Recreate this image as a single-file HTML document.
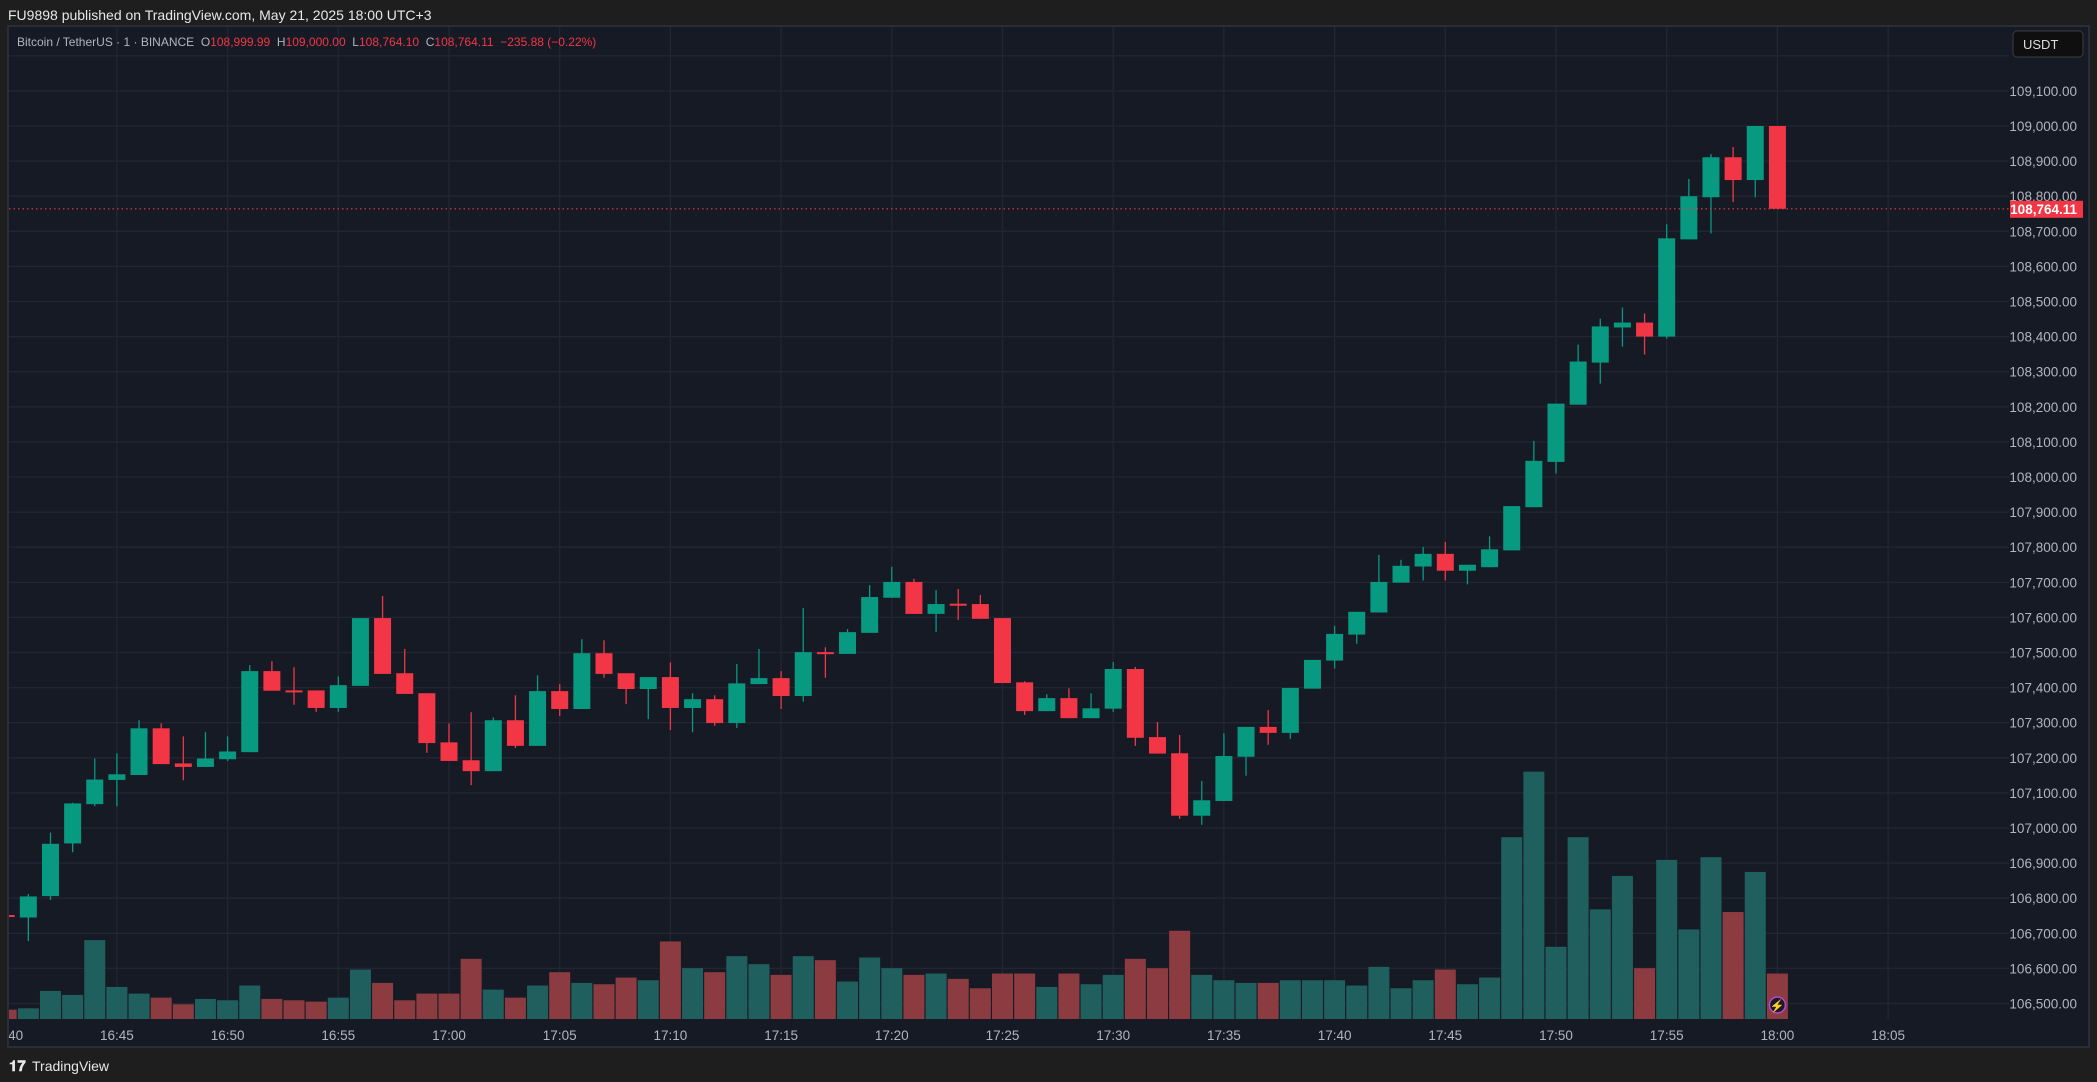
<!DOCTYPE html>
<html><head><meta charset="utf-8">
<style>
html,body{margin:0;padding:0;background:#1e1e1e;width:2097px;height:1082px;overflow:hidden;font-family:"Liberation Sans",sans-serif;}
svg{position:absolute;left:0;top:0;}
</style></head>
<body>
<svg id="chart" width="2097" height="1082" xmlns="http://www.w3.org/2000/svg">
<defs><clipPath id="plotclip"><rect x="9" y="27" width="2000" height="992"/></clipPath>
<clipPath id="axisclip"><rect x="9" y="1019" width="2000" height="27"/></clipPath></defs>
<rect x="0" y="0" width="2097" height="1082" fill="#1e1e1e"/>
<text x="8" y="20" fill="#e8e8e8" font-size="14">FU9898 published on TradingView.com, May 21, 2025 18:00 UTC+3</text>
<rect x="8" y="26" width="2081" height="1021" fill="#161a25" stroke="#2a2d35" stroke-width="2"/>
<g id="grid"></g>
<g id="vols" clip-path="url(#plotclip)"></g>
<g id="candles" clip-path="url(#plotclip)"></g>
<g id="yaxis"></g>
<g id="xaxis" clip-path="url(#axisclip)"></g>
<text x="17" y="46" font-size="12" fill="#b2b5be" style="white-space:pre">Bitcoin / TetherUS · 1 · BINANCE  O<tspan fill="#f23645">108,999.99</tspan>  H<tspan fill="#f23645">109,000.00</tspan>  L<tspan fill="#f23645">108,764.10</tspan>  C<tspan fill="#f23645">108,764.11</tspan>  <tspan fill="#f23645">−235.88 (−0.22%)</tspan></text>
<rect x="2013" y="31" width="70" height="26" rx="4" fill="#0f0f0f" stroke="#3a3d45"/>
<text x="2023" y="49" font-size="13" fill="#dddddd">USDT</text>
<g><text x="9" y="1071" font-size="15" font-weight="bold" fill="#e8e8e8">𝟏𝟕</text><text x="32" y="1071" font-size="14" fill="#e8e8e8">TradingView</text></g>
</svg>
<script>
const opens=[106752,106745,106806,106956,107068,107137,107151,107284,107184,107174,107196,107216,107447,107392,107392,107342,107405,107598,107441,107384,107244,107193,107162,107307,107234,107390,107339,107498,107441,107396,107430,107342,107367,107299,107410,107427,107376,107501,107496,107556,107656,107701,107610,107639,107638,107598,107415,107333,107370,107313,107340,107453,107259,107213,107035,107077,107203,107288,107271,107397,107477,107551,107614,107699,107745,107781,107733,107743,107791,107914,108043,108206,108326,108426,108440,108400,108677,108797,108911,108846,108999.99];
const highs=[106760,106812,106987,107072,107198,107213,107307,107298,107261,107273,107261,107464,107475,107458,107392,107432,107598,107661,107510,107384,107298,107330,107315,107378,107435,107410,107538,107535,107441,107430,107472,107384,107378,107467,107510,107447,107627,107515,107567,107692,107744,107710,107678,107681,107664,107598,107418,107381,107398,107384,107473,107459,107302,107265,107134,107270,107288,107336,107399,107479,107576,107616,107778,107764,107801,107815,107750,107831,107917,108103,108209,108377,108451,108483,108466,108720,108849,108920,108940,109000,109000];
const lows=[106745,106678,106795,106931,107062,107062,107151,107182,107136,107174,107191,107216,107391,107351,107331,107331,107405,107439,107382,107214,107191,107122,107162,107228,107234,107319,107339,107428,107353,107310,107279,107273,107291,107285,107410,107339,107360,107428,107496,107556,107656,107610,107559,107593,107596,107413,107322,107333,107313,107313,107331,107234,107212,107026,107009,107077,107149,107237,107254,107397,107454,107525,107614,107699,107705,107705,107694,107743,107791,107914,108010,108206,108266,108371,108349,108394,108677,108694,108783,108797,108764.10];
const closes=[106748,106805,106955,107070,107138,107153,107284,107182,107174,107198,107218,107447,107391,107390,107342,107407,107598,107439,107382,107242,107191,107162,107307,107234,107390,107339,107498,107439,107396,107430,107342,107367,107299,107412,107427,107376,107501,107499,107558,107658,107701,107610,107638,107637,107596,107413,107333,107370,107313,107341,107453,107257,107212,107035,107079,107205,107288,107271,107399,107479,107553,107616,107701,107747,107781,107733,107750,107794,107917,108046,108209,108329,108429,108440,108400,108680,108800,108911,108846,109000,108764.11];
const volumes=[7,8,21,18,59,24,19,16,11,15,14,25,15,14,13,16,37,27,14,19,19,45,22,16,25,35,27,26,31,29,58,38,35,47,41,33,47,44,28,46,38,33,34,30,23,34,34,24,34,26,33,45,38,66,33,29,27,27,29,29,29,25,39,23,29,37,26,31,136,185,54,136,82,107,38,119,67,121,80,110,34];
const priceTicks=[106500,106600,106700,106800,106900,107000,107100,107200,107300,107400,107500,107600,107700,107800,107900,108000,108100,108200,108300,108400,108500,108600,108700,108800,108900,109000,109100];
const timeTicks=["16:40","16:45","16:50","16:55","17:00","17:05","17:10","17:15","17:20","17:25","17:30","17:35","17:40","17:45","17:50","17:55","18:00","18:05"];
const lastPrice=108764.11;

const NS="http://www.w3.org/2000/svg";
const X=i=>6.2+i*22.14;
const Y=p=>126+(109000-p)*0.351;
const VY=v=>1019-v*1.337;
function mk(tag,attrs,parent){const e=document.createElementNS(NS,tag);for(const k in attrs)e.setAttribute(k,attrs[k]);parent.appendChild(e);return e;}
const fmt=p=>p.toLocaleString('en-US',{minimumFractionDigits:2,maximumFractionDigits:2});

const grid=document.getElementById('grid');
for(let p=106500;p<=109200;p+=100){
  const l=mk('line',{x1:9,x2:2009,y1:Y(p),y2:Y(p),stroke:'#232632','stroke-width':1.3},grid);
  
  
}
timeTicks.forEach((t,k)=>{
  const x=X(k*5);
  if(x>9){const l=mk('line',{x1:x,x2:x,y1:27,y2:1019,stroke:'#232632','stroke-width':1.3},grid);
  
  }
});

const vols=document.getElementById('vols');
volumes.forEach((v,i)=>{
  const up=closes[i]>=opens[i];
  const r=mk('rect',{x:X(i)-10.5,y:VY(v),width:21,height:1019-VY(v),fill:up?'#1f605e':'#8c3b41'},vols);
  
  
});

const cg=document.getElementById('candles');
opens.forEach((o,i)=>{
  const c=closes[i],up=c>=o,col=up?'#089981':'#f23645';
  const g=mk('g',{},cg);
  
  
  mk('line',{x1:X(i),x2:X(i),y1:Y(highs[i]),y2:Y(lows[i]),stroke:col,'stroke-width':1.3},g);
  const top=Math.min(Y(o),Y(c)),h=Math.max(2,Math.abs(Y(o)-Y(c)));
  mk('rect',{x:X(i)-8.5,y:top,width:17,height:h,fill:col},g);
});

const ln=mk('line',{x1:9,x2:2009,y1:Y(lastPrice),y2:Y(lastPrice),stroke:'#f23645','stroke-width':1.2,'stroke-dasharray':'1.5 3'},cg);



const ya=document.getElementById('yaxis');
priceTicks.forEach(p=>{
  const t=mk('text',{x:2077,y:Y(p)+5,'font-size':13.5,fill:'#b2b5be','text-anchor':'end'},ya);
  t.textContent=fmt(p);
  
  
});
const lb=mk('rect',{x:2010,y:Y(lastPrice)-8,width:73,height:17,fill:'#f23645'},ya);


const lt=mk('text',{x:2077,y:Y(lastPrice)+5,'font-size':13.5,fill:'#ffffff','text-anchor':'end','font-weight':'bold'},ya);
lt.textContent=fmt(lastPrice);



const xa=document.getElementById('xaxis');
timeTicks.forEach((t,k)=>{
  const e=mk('text',{x:X(k*5),y:1040,'font-size':13.5,fill:'#b2b5be','text-anchor':'middle'},xa);
  e.textContent=t;
  
  
});

const ic=mk('g',{},document.getElementById('chart'));


mk('circle',{cx:X(80),cy:1005,r:8,fill:'#1a1a24',stroke:'#b04bd6','stroke-width':1.5},ic);
const bolt=mk('text',{x:X(80),y:1010,'font-size':12,fill:'#c95ef0','text-anchor':'middle'},ic);
bolt.textContent='⚡';
</script>
</body></html>
